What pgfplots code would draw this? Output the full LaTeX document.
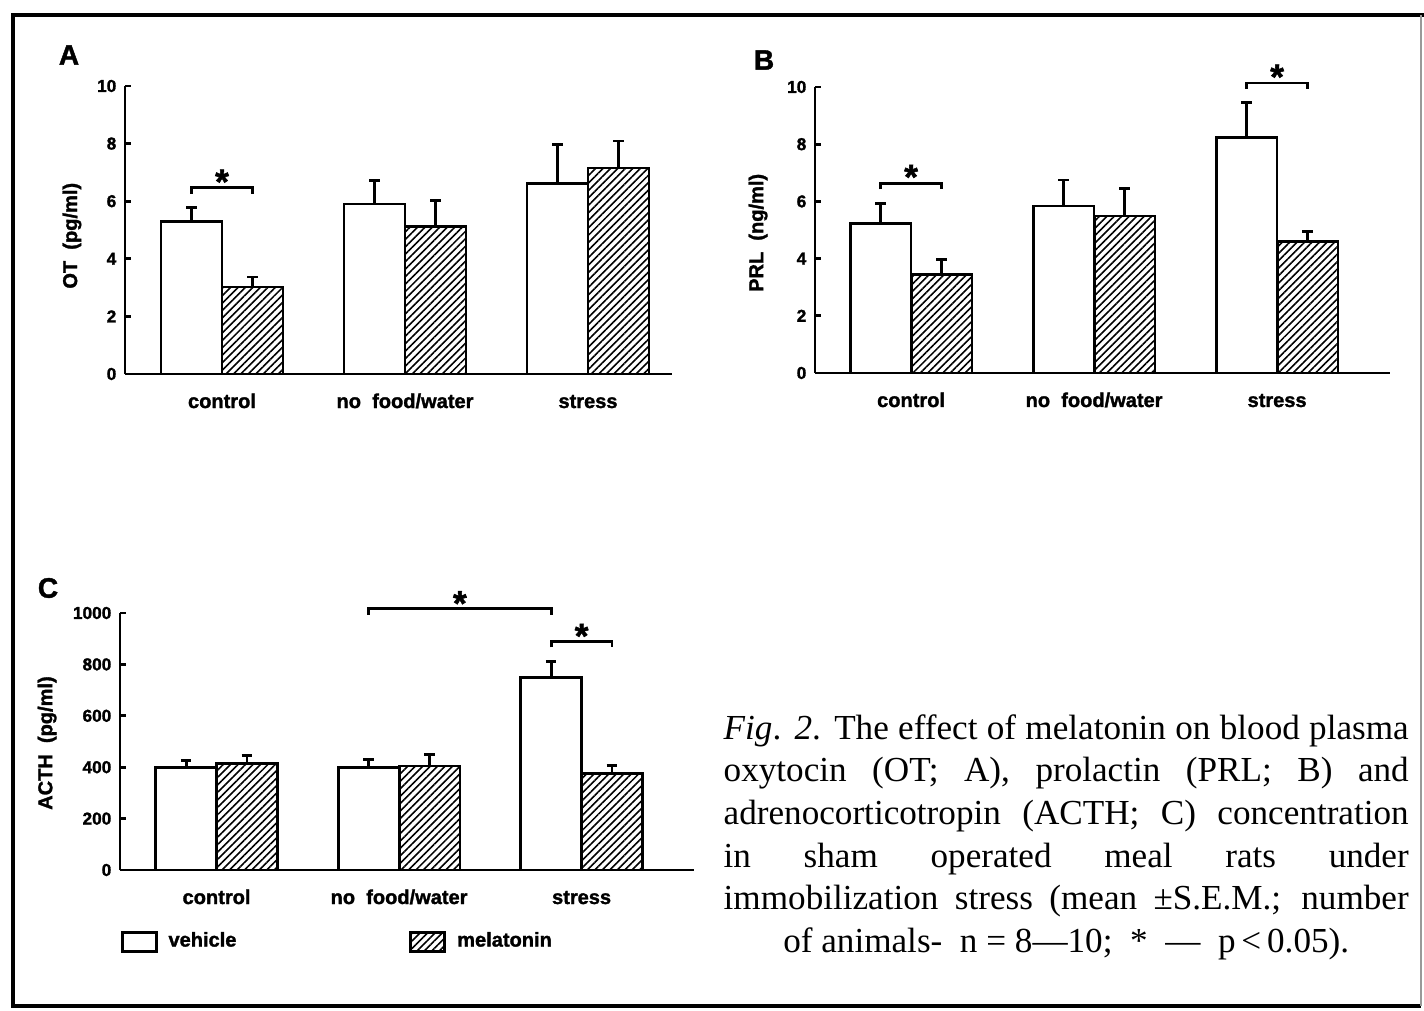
\documentclass[border=0pt]{standalone}
\usepackage{fontspec}
\setmainfont{Liberation Serif}
\newfontfamily\chartfont[BoldFeatures={FakeBold=1.5}]{Liberation Sans}
\usepackage{pgfplots}
\usepackage{pgfplotstable}
\pgfplotsset{compat=1.18}
\usetikzlibrary{patterns.meta}

% group 0 = control, 1 = no food/water, 2 = stress
\pgfplotstableread{
g veh vehe mel mele
0 5.29 0.48 3.02 0.35
1 5.90 0.82 5.11 0.90
2 6.61 1.36 7.15 0.94
}\dataA
\pgfplotstableread{
g veh vehe mel mele
0 5.24 0.69 3.43 0.54
1 5.84 0.91 5.49 0.96
2 8.23 1.24 4.60 0.34
}\dataB
\pgfplotstableread{
g veh vehe mel mele
0 399 27 416 28
1 399 30 405 44
2 749 63 377 29
}\dataC

\pgfplotsset{
  panel/.style={
    anchor=south west, scale only axis, clip=false,
    axis x line=bottom, axis y line=left,
    axis line style={-, line width=0.8pt},
    ymin=0,
    xtick={0,1,2}, xticklabels={control,no\ \ food/water,stress},
    xtick style={draw=none},
    x tick label style={font=\chartfont\bfseries\fontsize{5.7}{6}\selectfont,
      inner sep=0pt, anchor=base, yshift=-3.4mm},
    y tick label style={font=\chartfont\bfseries\fontsize{4.9}{5}\selectfont,
      /pgf/number format/assume math mode=true, /pgf/number format/1000 sep={},
      inner sep=0pt, anchor=east, xshift=-0.8mm},
    scaled y ticks=false,
    ytick style={line width=0.8pt, black},
    tick align=inside, major tick length=0.6mm,
    ylabel style={font=\chartfont\bfseries\fontsize{5.7}{6}\selectfont, anchor=center},
    bar width=0.333,
  },
  errs/.style={
    error bars/y dir=plus, error bars/y explicit,
    error bars/error mark=|,
    error bars/error bar style={line width=0.8pt, black},
    error bars/error mark options={line width=0.8pt, mark size=1.5pt, black}},
  veh/.style={ybar, bar shift=0pt, draw=black, fill=white, line width=0.8pt, errs,
    legend image code/.code={\draw[##1, line width=0.8pt] (0mm,-0.95mm) rectangle (3.4mm,0.95mm);}},
  mel/.style={ybar, bar shift=0pt, draw=black, line width=0.8pt, errs,
    pattern={Lines[angle=45, distance=1.5pt, line width=0.45pt]},
    legend image code/.code={\draw[##1, line width=0.8pt] (0mm,-0.95mm) rectangle (3.4mm,0.95mm);}},
}
\tikzset{star/.style={font=\chartfont\bfseries\fontsize{10}{10}\selectfont, inner sep=0pt, yshift=-0.7mm},
  plabel/.style={font=\chartfont\bfseries\fontsize{8}{8}\selectfont, inner sep=0pt},
  bracket/.style={line width=0.8pt}}

\begin{document}
\begin{tikzpicture}
\path[use as bounding box] (0,0) rectangle (142.4mm,101mm);
% frame
\draw[line width=0.9pt] (142.4mm,99.5mm) -- (1.3mm,99.5mm) -- (1.3mm,0.4mm) -- (142.1mm,0.4mm);
\draw[line width=0.4pt, black!40] (142.1mm,0.4mm) -- (142.1mm,99.5mm);

% ---- A: oxytocin
\begin{axis}[panel, at={(12.5mm,63.6mm)}, width=54.7mm, height=28.8mm,
  xmin=-0.530, xmax=2.459, ymax=10, ytick={0,2,...,10},
  ylabel={OT\ \ (pg/ml)}, ylabel style={at={(axis description cs:-0.097,0.48)}}]
\addplot[veh] table[x expr=\thisrow{g}-0.1667, y=veh, y error=vehe] {\dataA};
\addplot[mel] table[x expr=\thisrow{g}+0.1667, y=mel, y error=mele] {\dataA};
\draw[bracket] (axis cs:-0.167,6.26) -- (axis cs:-0.167,6.47) -- (axis cs:0.167,6.47) -- (axis cs:0.167,6.26);
\node[star] at (axis cs:0,6.92) {*};
\end{axis}
\node[plabel] at (6.9mm,95.5mm) {A};

% ---- B: prolactin
\begin{axis}[panel, at={(81.5mm,63.7mm)}, width=57.5mm, height=28.6mm,
  xmin=-0.525, xmax=2.617, ymax=10, ytick={0,2,...,10},
  ylabel={PRL\ \ (ng/ml)}, ylabel style={at={(axis description cs:-0.099,0.49)}}]
\addplot[veh] table[x expr=\thisrow{g}-0.1667, y=veh, y error=vehe] {\dataB};
\addplot[mel] table[x expr=\thisrow{g}+0.1667, y=mel, y error=mele] {\dataB};
\draw[bracket] (axis cs:-0.167,6.42) -- (axis cs:-0.167,6.62) -- (axis cs:0.167,6.62) -- (axis cs:0.167,6.42);
\node[star] at (axis cs:0,7.1) {*};
\draw[bracket] (axis cs:1.833,9.94) -- (axis cs:1.833,10.14) -- (axis cs:2.167,10.14) -- (axis cs:2.167,9.94);
\node[star] at (axis cs:2,10.6) {*};
\end{axis}
\node[plabel] at (76.4mm,95.0mm) {B};

% ---- C: ACTH
\begin{axis}[panel, at={(12.0mm,14.0mm)}, width=57.4mm, height=25.7mm,
  xmin=-0.529, xmax=2.616, ymax=1000, ytick={0,200,...,1000}, bar width=0.334,
  ylabel={ACTH\ \ (pg/ml)}, ylabel style={at={(axis description cs:-0.127,0.494)}},
  legend columns=2,
  legend style={at={(axis description cs:0.0,-0.227)}, anchor=north west,
    draw=none, fill=none, inner sep=0pt,
    font=\chartfont\bfseries\fontsize{5.7}{6}\selectfont,
    nodes={inner sep=0.3mm},
    /tikz/every odd column/.append style={column sep=0.8mm},
    /tikz/every even column/.append style={column sep=17mm}},
  legend cell align=left]
\addplot[veh] table[x expr=\thisrow{g}-0.1667, y=veh, y error=vehe] {\dataC};
\addlegendentry{vehicle}
\addplot[mel] table[x expr=\thisrow{g}+0.1667, y=mel, y error=mele] {\dataC};
\addlegendentry{melatonin}
\draw[bracket] (axis cs:0.833,993) -- (axis cs:0.833,1017) -- (axis cs:1.833,1017) -- (axis cs:1.833,993);
\node[star] at (axis cs:1.333,1065) {*};
\draw[bracket] (axis cs:1.833,866) -- (axis cs:1.833,890) -- (axis cs:2.167,890) -- (axis cs:2.167,866);
\node[star] at (axis cs:2,938) {*};
\end{axis}
\node[plabel] at (4.8mm,42.2mm) {C};

% ---- caption
\node[anchor=north west, inner sep=0pt, text width=68.5mm, align=justify,
  font=\fontsize{10}{12.1}\selectfont] at (72.3mm,29.6mm) {%
\setlength\parindent{0pt}%
{\parfillskip=0pt
\textit{Fig}. \textit{2}. The effect of melatonin on blood plasma\linebreak
oxytocin (OT; A), prolactin (PRL; B) and\linebreak
adrenocorticotropin (ACTH; C) concentration\linebreak
in sham operated meal rats under\linebreak
immobilization stress (mean ±S.E.M.; number\par}
{\centering of animals-\enspace n = 8—10;\enspace *\enspace —\enspace p\,<\,0.05).\par}};
\end{tikzpicture}
\end{document}
